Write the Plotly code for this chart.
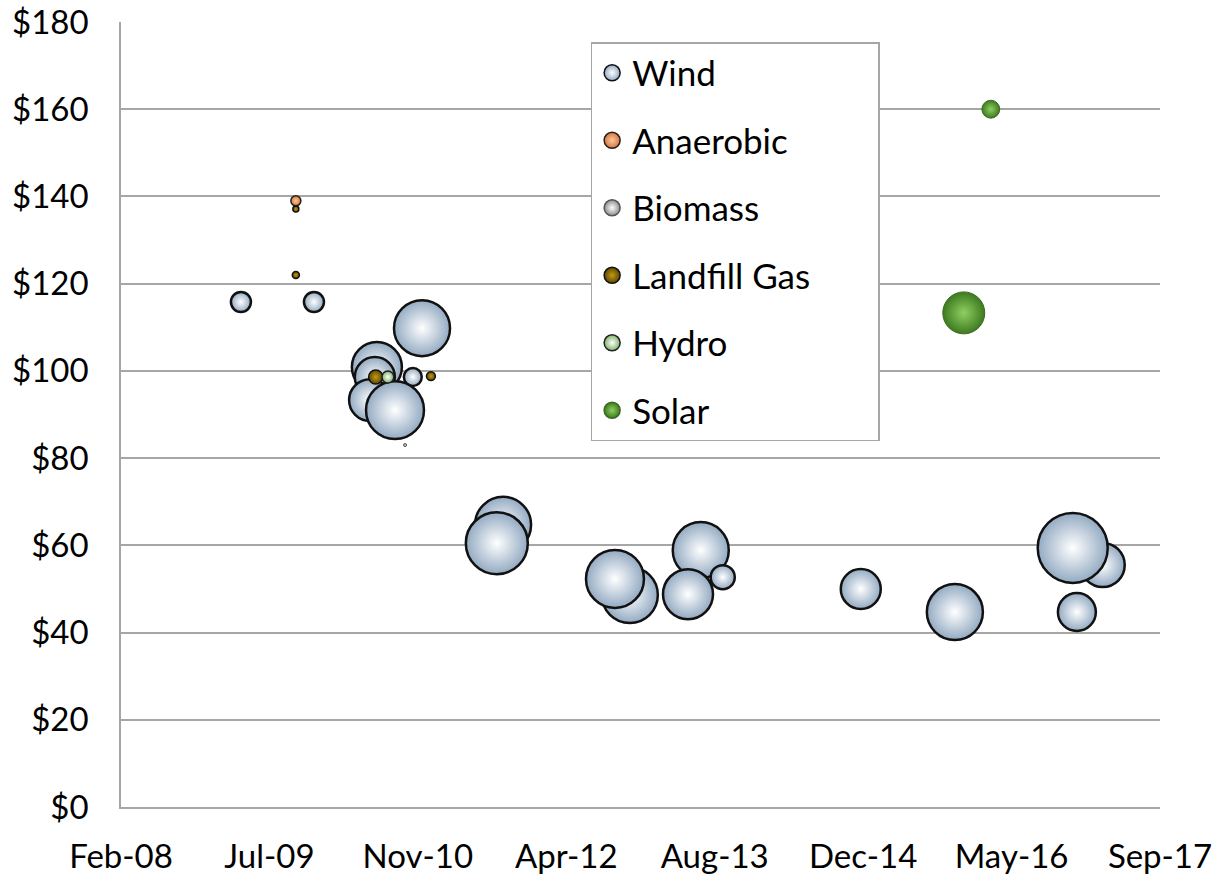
import plotly.graph_objects as go
import pandas as pd

# ---------------- data ----------------
tick_labels = ["Feb-08", "Jul-09", "Nov-10", "Apr-12", "Aug-13", "Dec-14", "May-16", "Sep-17"]
axis_start = "2008-02-24"
tick_step_days = 500

wind_dates = ["2010-07-05", "2010-06-28", "2010-11-03", "2010-12-04", "2010-06-12", "2010-09-04",
              "2009-04-03", "2009-12-05",
              "2011-09-03", "2011-08-13", "2012-11-03", "2012-09-14",
              "2013-06-30", "2013-05-18", "2013-09-12", "2014-12-21", "2015-11-03",
              "2017-03-15", "2016-12-04", "2016-12-18"]
wind_price = [100.9, 98.6, 98.6, 109.8, 93.3, 91.0,
              115.8, 115.8,
              64.7, 60.5, 48.6, 52.3,
              58.9, 48.8, 52.7, 50.0, 44.7,
              55.5, 59.4, 44.7]
wind_size = [125, 80, 16, 157, 88, 168,
             20, 20,
             157, 192, 157, 168,
             157, 125, 29, 80, 157,
             97, 245, 72]

anaerobic_dates = ["2009-10-05"]
anaerobic_price = [139.0]
anaerobic_size = [5]

biomass_dates = ["2010-10-08"]
biomass_price = [83.0]
biomass_size = [0.45]

landfill_dates = ["2009-10-05", "2009-10-05", "2010-07-01", "2011-01-03"]
landfill_price = [137.1, 122.0, 98.6, 98.8]
landfill_size = [1.8, 2.5, 10, 4]

hydro_dates = ["2010-08-11"]
hydro_price = [98.6]
hydro_size = [7]

solar_dates = ["2015-12-03", "2016-03-03"]
solar_price = [113.3, 160.0]
solar_size = [88, 16]

legend_labels = ["Wind", "Anaerobic", "Biomass", "Landfill Gas", "Hydro", "Solar"]

# ---------------- styles ----------------
SIZEREF = 0.1
series = [
    (wind_dates, wind_price, wind_size, "#93aac2", "#ffffff", "#111111", 2.5),
    (anaerobic_dates, anaerobic_price, anaerobic_size, "#d9753a", "#fcc7a0", "#222222", 1.5),
    (biomass_dates, biomass_price, biomass_size, "#8c8c8c", "#ffffff", "#555555", 1.0),
    (landfill_dates, landfill_price, landfill_size, "#5e4600", "#c29a14", "#111111", 1.5),
    (hydro_dates, hydro_price, hydro_size, "#7fb36a", "#ffffff", "#222222", 1.5),
    (solar_dates, solar_price, solar_size, "#3d7a20", "#8fd060", "#3a6a22", 1.0),
]

fig = go.Figure()
for name, (xs, ys, ss, edge, center, lc, lw) in zip(legend_labels, series):
    fig.add_trace(go.Scatter(
        x=pd.to_datetime(xs), y=ys, mode="markers", name=name, showlegend=False,
        legendgroup=name,
        marker=dict(size=ss, sizemode="area", sizeref=SIZEREF, sizemin=0,
                    color=edge, gradient=dict(type="radial", color=center),
                    line=dict(color=lc, width=lw), opacity=1),
        hovertemplate="%{x|%b-%y}<br>$%{y}<extra>" + name + "</extra>",
    ))
# legend entries (the longest one is padded so the box reaches its width)
for name, (xs, ys, ss, edge, center, lc, lw) in zip(legend_labels, series):
    label = name + ("\u00a0" * 7 if name == "Landfill Gas" else "")
    fig.add_trace(go.Scatter(
        x=[None], y=[None], mode="markers", name=label, legendgroup=name, showlegend=True,
        marker=dict(size=16, color=edge, gradient=dict(type="radial", color=center),
                    line=dict(color=lc, width=1.5)),
    ))

start = pd.Timestamp(axis_start)
tick_vals = [start + pd.Timedelta(days=tick_step_days * i) for i in range(len(tick_labels))]

FONT = "Lato, 'Open Sans', sans-serif"
fig.update_layout(
    width=1220, height=875,
    margin=dict(l=121, r=60, t=22, b=68, autoexpand=False),
    paper_bgcolor="white", plot_bgcolor="white",
    font=dict(family=FONT, size=32, color="#000000"),
    showlegend=True,
    legend=dict(x=0.452, y=0.9745, xanchor="left", yanchor="top",
                bgcolor="white", bordercolor="#a6a6a6", borderwidth=1.5,
                font=dict(family=FONT, size=35, color="#000000"),
                tracegroupgap=19, itemsizing="trace"),
    xaxis=dict(type="date", range=[tick_vals[0], tick_vals[-1]], automargin=False,
               tickmode="array", tickvals=tick_vals, ticktext=tick_labels,
               showgrid=False, zeroline=False,
               showline=True, linecolor="#a6a6a6", linewidth=1.5,
               ticks="", ticklabelstandoff=20,
               tickfont=dict(family=FONT, size=33, color="#000000")),
    yaxis=dict(range=[0, 180], dtick=20, tick0=0, tickprefix="$", automargin=False,
               showgrid=True, gridcolor="#a6a6a6", gridwidth=1.5,
               zeroline=False, showline=True, linecolor="#a6a6a6", linewidth=1.5,
               ticks="", ticklabelstandoff=24, ticklabeloverflow="allow",
               tickfont=dict(family=FONT, size=33, color="#000000")),
)

# remove the default page margin so the figure sits at the window's top-left corner
fig.write_html("out.html", config={"displayModeBar": False},
               post_script="document.body.style.margin='0px';")
